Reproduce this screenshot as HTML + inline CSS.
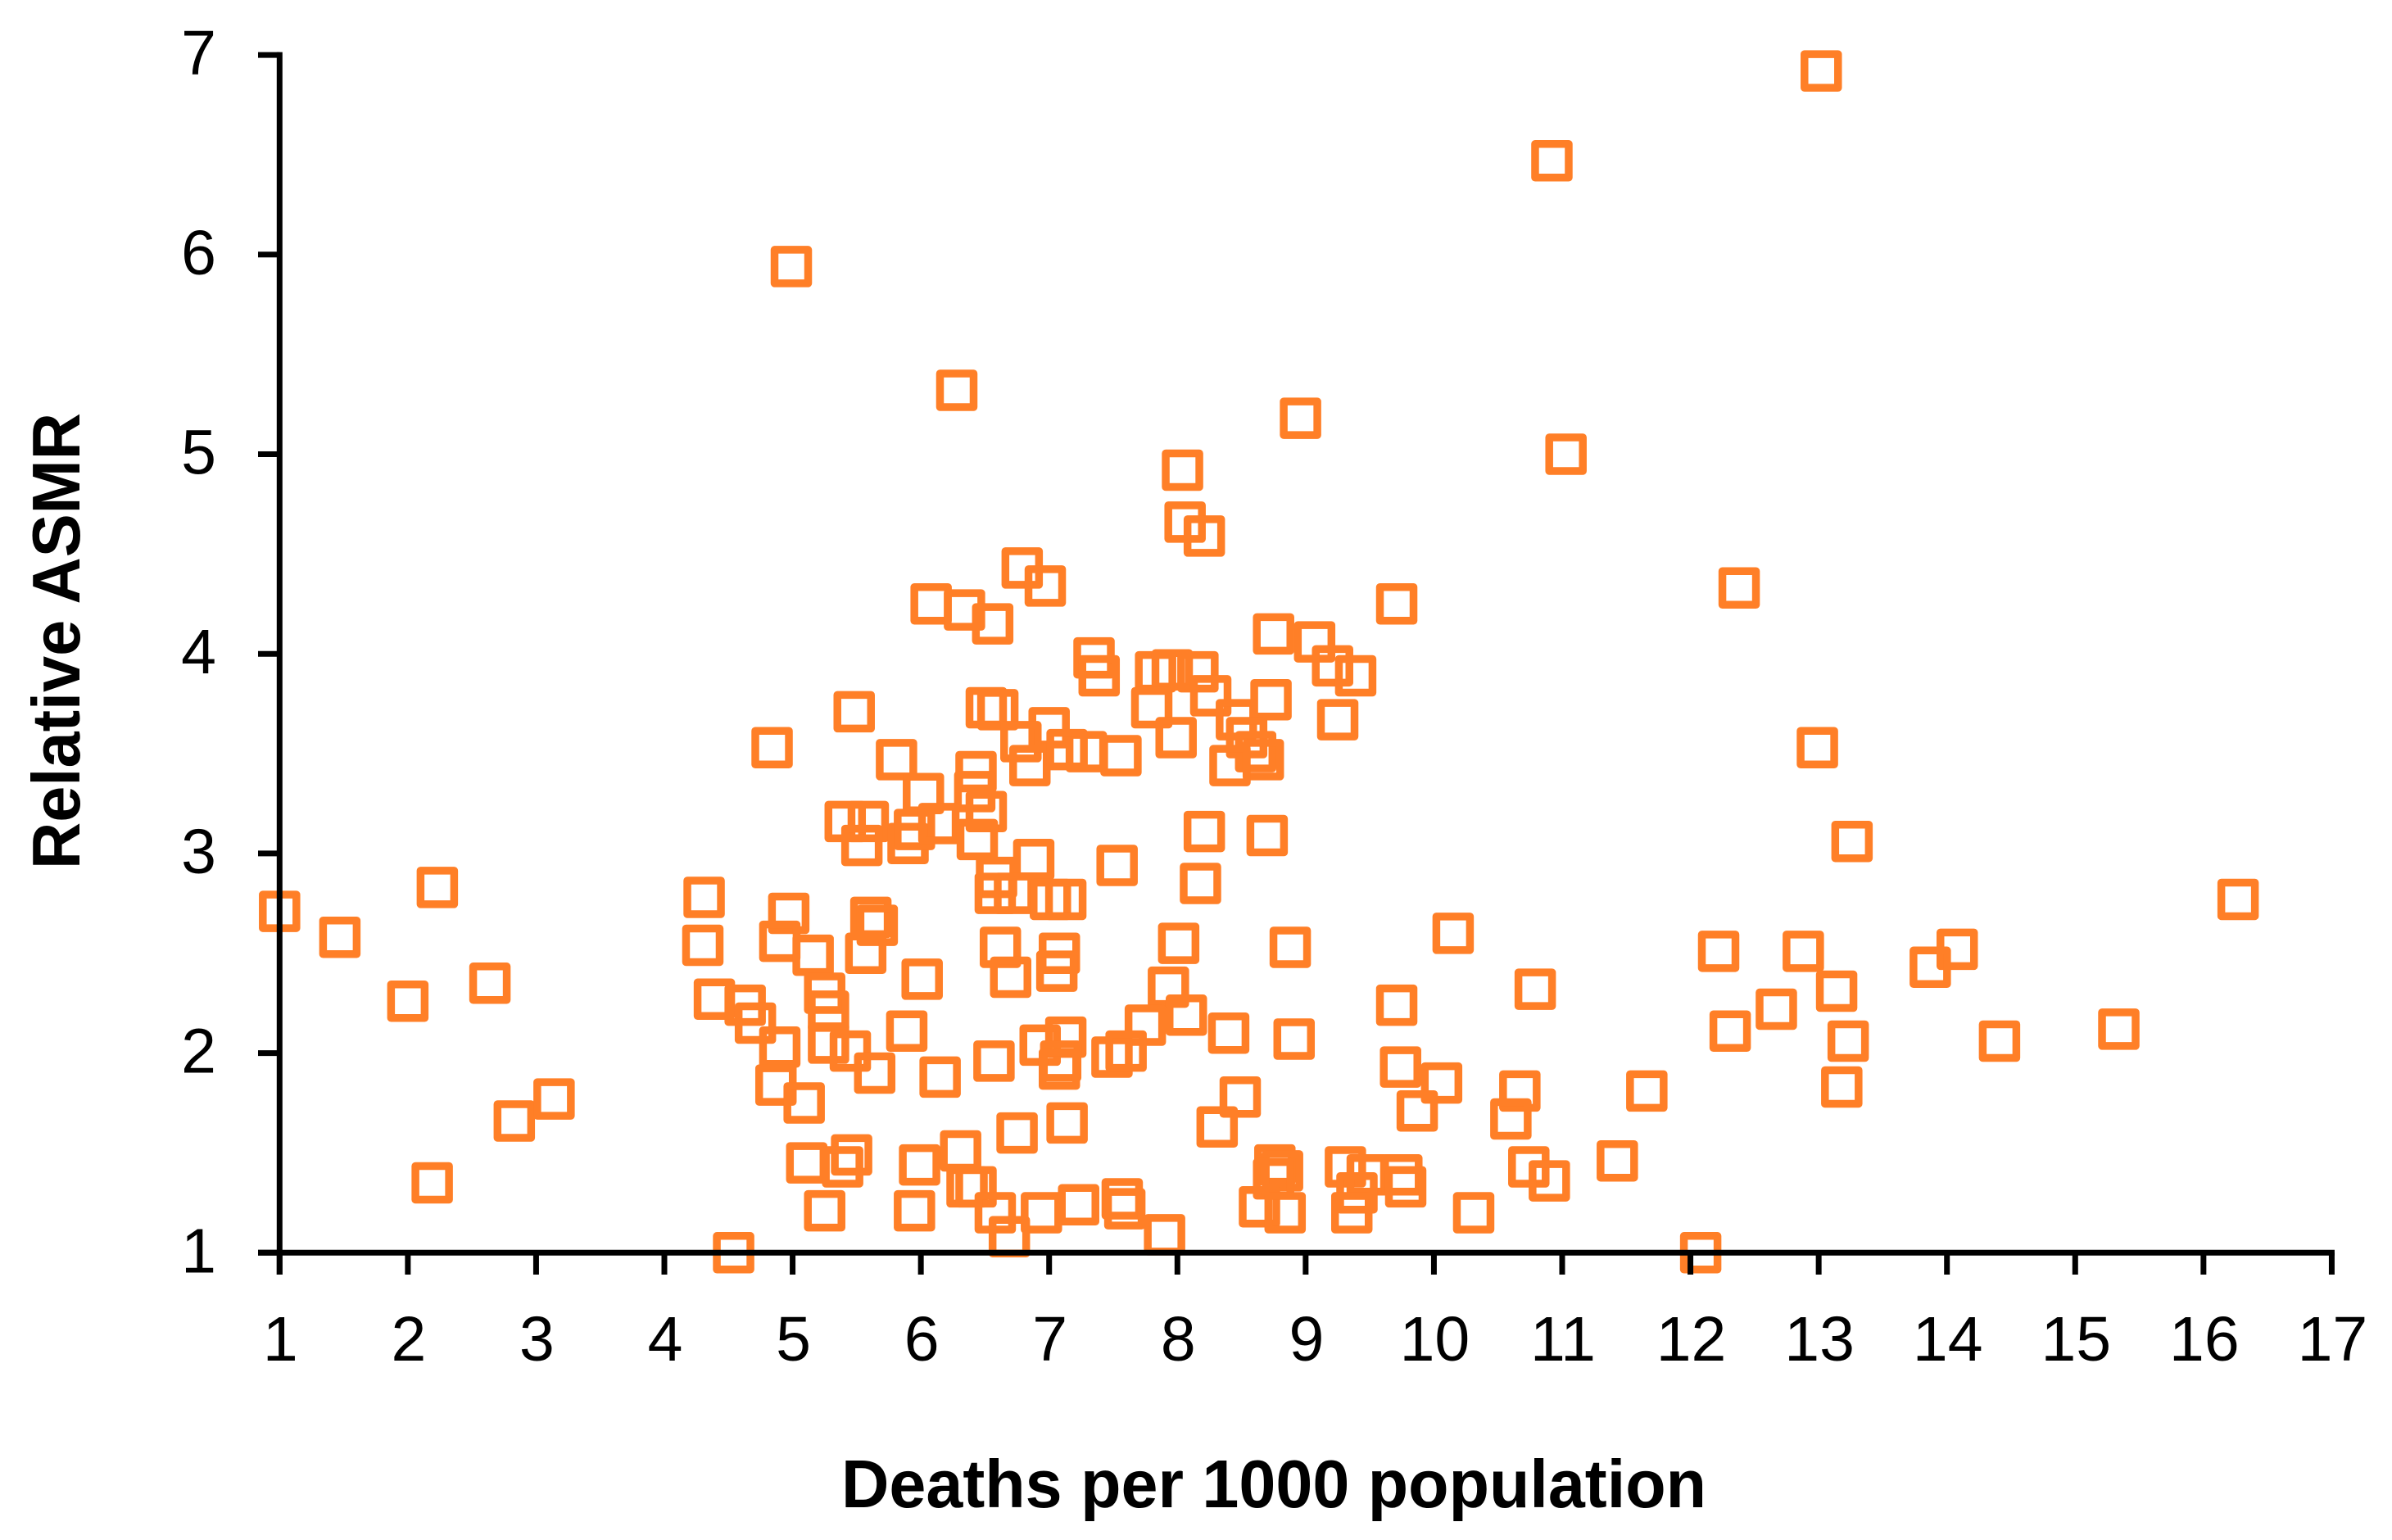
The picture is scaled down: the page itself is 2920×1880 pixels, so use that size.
<!DOCTYPE html>
<html lang="en">
<head>
<meta charset="utf-8">
<title>Relative ASMR vs deaths per 1000 population</title>
<style>
html,body{margin:0;padding:0;background:#fff;width:2920px;height:1880px;overflow:hidden}
svg{display:block}
text{font-family:"Liberation Sans",Arial,sans-serif;fill:#000}
</style>
</head>
<body>
<svg id="chart" xmlns="http://www.w3.org/2000/svg" width="2920" height="1880" viewBox="0 0 2920 1880">
  <rect x="0" y="0" width="2920" height="1880" fill="#ffffff"/>
  <g id="markers"></g>
  <g id="axes"></g>
  <text x="1027" y="1840" font-size="83" font-weight="700" textLength="1056" lengthAdjust="spacingAndGlyphs">Deaths per 1000 population</text>
  <text transform="translate(97,1061) rotate(-90)" font-size="83" font-weight="700" textLength="557" lengthAdjust="spacingAndGlyphs">Relative ASMR</text>
</svg>
<script>
const xTickLabels = [1,2,3,4,5,6,7,8,9,10,11,12,13,14,15,16,17];
const yTickLabels = [1,2,3,4,5,6,7];

const deathsPer1000 = [
  6.79,6.97,6.08,6.34,6.56,5.48,4.84,6.51,6.60,7.00,6.78,6.85,5.81,6.43,6.42,6.51,6.02,5.41,5.59,5.54,
  5.90,5.95,6.14,6.44,6.88,6.59,6.58,6.73,7.01,7.13,4.31,
  4.97,4.30,4.90,5.16,5.61,5.66,5.57,6.01,6.62,6.70,7.08,7.06,4.39,4.63,4.71,4.90,5.25,5.28,5.28,5.45,
  5.64,5.89,6.15,6.57,6.93,7.13,7.09,7.08,6.75,7.14,4.87,5.09,5.11,5.46,5.39,5.99,6.31,6.36,6.43,5.25,
  5.95,6.58,6.94,6.69,4.54,7.23,
  8.01,8.88,10.15,7.93,8.07,7.75,8.40,8.91,9.71,9.74,10.06,9.87,7.49,7.60,8.49,8.31,8.76,8.82,8.75,8.64,
  8.84,9.31,9.48,9.75,9.78,9.40,9.36,10.31,7.57,7.59,7.90,
  10.79,12.22,12.88,13.14,12.67,12.31,13.23,13.18,10.67,10.60,11.66,11.43,10.74,10.90,12.08,
  8.06,8.21,9.71,8.75,9.07,9.21,9.39,7.35,7.39,7.83,7.96,8.16,8.26,7.80,7.99,8.73,9.25,8.46,8.54,8.61,
  8.67,8.41,8.21,8.70,7.53,8.18,7.56,7.29,7.14,
  1.00,1.47,2.00,2.23,2.64,2.19,2.83,3.14,4.99,6.28,8.96,8.04,11.03,10.92,13.02,12.38,12.99,13.26,16.27,
  14.08,13.87,14.41,15.34
];
const relativeAsmr = [
  4.43,4.34,4.25,4.22,4.15,3.71,3.53,3.73,3.72,3.63,3.56,3.44,3.47,3.41,3.31,3.21,3.30,3.16,3.16,3.04,
  3.05,3.12,3.15,3.07,2.97,2.88,2.80,2.80,2.77,2.77,2.78,
  2.70,2.54,2.56,2.49,2.68,2.64,2.50,2.37,2.53,2.38,2.50,2.41,2.27,2.24,2.15,2.03,2.30,2.21,2.05,2.01,
  1.90,2.11,1.88,1.96,2.04,2.08,1.96,1.92,1.60,1.65,1.84,1.75,1.45,1.49,1.43,1.44,1.51,1.33,1.33,1.21,
  1.21,1.20,1.20,1.08,1.00,1.24,
  2.55,2.53,2.60,2.33,2.19,2.14,2.10,2.07,2.24,1.93,1.85,1.71,1.98,2.01,1.78,1.63,1.44,1.41,1.37,1.23,
  1.20,1.43,1.39,1.39,1.33,1.30,1.20,1.20,1.27,1.22,1.09,
  2.32,2.51,2.51,2.31,2.22,2.11,2.06,1.83,1.81,1.67,1.81,1.46,1.43,1.36,1.00,
  4.66,4.59,4.25,4.10,4.06,3.94,3.89,3.98,3.89,3.91,3.92,3.91,3.79,3.73,3.58,3.77,3.67,3.67,3.58,3.51,
  3.47,3.44,3.11,3.09,2.94,2.85,3.49,3.51,3.52,
  2.71,2.58,2.26,2.83,2.35,1.35,1.66,1.77,5.94,5.32,5.18,4.92,5.00,6.47,6.92,4.33,3.53,3.06,2.77,
  2.52,2.43,2.06,2.12
];

const SVG_NS = 'http://www.w3.org/2000/svg';
const AXIS_COLOR = '#000000';
const MARKER_COLOR = '#ff7f27';
const plot = {x0: 341.3, xPerUnit: 156.57, y0: 1529.3, yPerUnit: 243.7, xMin: 1, yMin: 1};
function xScale(v){ return plot.x0 + (v - plot.xMin) * plot.xPerUnit; }
function yScale(v){ return plot.y0 - (v - plot.yMin) * plot.yPerUnit; }

const axes = document.getElementById('axes');
const markers = document.getElementById('markers');

function line(x1, y1, x2, y2){
  const l = document.createElementNS(SVG_NS, 'line');
  l.setAttribute('x1', x1);
  l.setAttribute('y1', y1);
  l.setAttribute('x2', x2);
  l.setAttribute('y2', y2);
  l.setAttribute('stroke', AXIS_COLOR);
  l.setAttribute('stroke-width', 7);
  return l;
}

const xMaxTick = xTickLabels[xTickLabels.length - 1];
const yMaxTick = yTickLabels[yTickLabels.length - 1];

const xAxisLine = line(315, yScale(plot.yMin), xScale(xMaxTick) + 3.5, yScale(plot.yMin));


axes.appendChild(xAxisLine);

const yAxisLine = line(xScale(plot.xMin), yScale(yMaxTick) - 3.5, xScale(plot.xMin), 1556);


axes.appendChild(yAxisLine);

xTickLabels.forEach(function(v){
  const t = line(xScale(v), yScale(plot.yMin), xScale(v), 1556);
  
  
  axes.appendChild(t);
  const label = document.createElementNS(SVG_NS, 'text');
  label.setAttribute('x', xScale(v) + 1);
  label.setAttribute('y', 1661);
  label.setAttribute('font-size', 77);
  label.setAttribute('text-anchor', 'middle');
  
  
  label.textContent = v;
  axes.appendChild(label);
});

yTickLabels.forEach(function(v){
  const t = line(315, yScale(v), xScale(plot.xMin), yScale(v));
  
  
  axes.appendChild(t);
  const label = document.createElementNS(SVG_NS, 'text');
  label.setAttribute('x', 264);
  label.setAttribute('y', yScale(v) + 24);
  label.setAttribute('font-size', 77);
  label.setAttribute('text-anchor', 'end');
  
  
  label.textContent = v;
  axes.appendChild(label);
});

const MARKER_SIZE = 41;
deathsPer1000.forEach(function(d, i){
  const r = document.createElementNS(SVG_NS, 'rect');
  r.setAttribute('x', xScale(d) - MARKER_SIZE / 2);
  r.setAttribute('y', yScale(relativeAsmr[i]) - MARKER_SIZE / 2);
  r.setAttribute('width', MARKER_SIZE);
  r.setAttribute('height', MARKER_SIZE);
  r.setAttribute('fill', 'none');
  r.setAttribute('stroke', MARKER_COLOR);
  r.setAttribute('stroke-width', 9.5);
  r.setAttribute('stroke-linejoin', 'round');
  
  
  markers.appendChild(r);
});
</script>
</body>
</html>
